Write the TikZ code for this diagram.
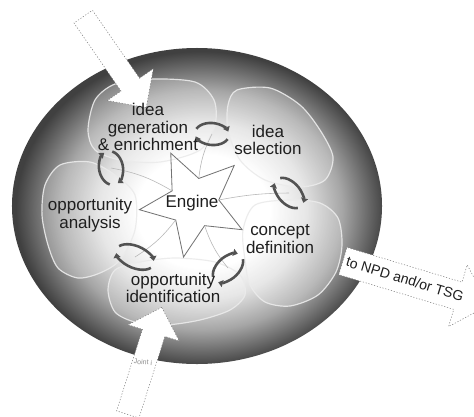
\documentclass[tikz,border=0pt]{standalone}
\usepackage{fontspec}
\setmainfont{Liberation Sans}
\usetikzlibrary{shapes.geometric, shapes.arrows, arrows.meta}

\pgfdeclareradialshading{discshade}{\pgfpoint{1bp}{-1bp}}{%
  color(0bp)=(white); color(9bp)=(white); color(14bp)=(black!12);
  color(19bp)=(black!35); color(22bp)=(black!55); color(25bp)=(black!75);
  color(50bp)=(black!75)}

\tikzset{
  lbl/.style={align=center, font=\fontsize{14.5}{14.8}\selectfont, text=black!88, inner sep=0pt},
  lobe/.style={fill=white, fill opacity=0.22, draw=white!92!black, draw opacity=0.9, line width=1pt},
  web/.style={draw=white!72!black, line width=0.5pt},
  bigarrow/.style={single arrow, fill=white, draw=black!55, dash pattern=on 1pt off 1.5pt,
    line width=0.4pt, single arrow tip angle=90, inner xsep=0pt},
  swirlarc/.style={draw=black!68, line width=2.2pt, -{Triangle[width=6pt,length=4pt]}},
  pics/swirl/.style={code={
    \draw[swirlarc] (200:1) arc (200:340:1);
    \draw[swirlarc] (20:1) arc (20:160:1);
  }},
}

\begin{document}
\begin{tikzpicture}[x=0.03cm, y=-0.03cm]
  \useasboundingbox (0,0) rectangle (474,416);

  % shaded disc
  \path[shading=discshade] (197,206) ellipse [x radius=5.55cm, y radius=4.74cm];

  % lobes
  \draw[lobe] plot[smooth cycle] coordinates {(88,130) (95,100) (115,84) (150,79) (195,82) (214,100) (215,125) (200,150) (160,162) (120,160) (95,150)};
  \draw[lobe] plot[smooth cycle] coordinates {(237,90) (270,88) (300,105) (320,130) (333,157) (325,180) (300,187) (265,180) (240,160) (228,130) (228,105)};
  \draw[lobe] plot[smooth cycle] coordinates {(45,185) (60,165) (90,162) (115,175) (135,195) (135,230) (120,260) (100,273) (78,278) (58,268) (48,245) (42,215)};
  \draw[lobe] plot[smooth cycle] coordinates {(108,290) (115,270) (140,262) (175,258) (215,262) (240,275) (245,295) (230,310) (200,320) (165,325) (135,322) (115,312)};
  \draw[lobe] plot[smooth cycle] coordinates {(255,205) (290,200) (320,203) (338,218) (342,245) (336,272) (318,295) (290,306) (265,302) (250,285) (245,260) (243,230)};

  % engine
  \node[star, star points=5, star point ratio=2.2, minimum size=3.3cm, inner sep=0pt,
        shape border rotate=25, draw=black!55, line width=0.7pt] (engine) at (194,203) {};

  \coordinate (swA) at (212,134);
  \coordinate (swB) at (111,168);
  \coordinate (swC) at (289,193);
  \coordinate (swD) at (135,257);
  \coordinate (swE) at (228,268);

  \draw[web] (engine.inner point 5) to[bend left=10] (swA);
  \draw[web] (engine.inner point 1) to[bend right=10] (swB);
  \draw[web] (engine.inner point 4) to[bend left=5] (swC);
  \draw[web] (engine.inner point 2) to[bend left=10] (swD);
  \draw[web] (engine.inner point 3) to[bend right=10] (swE);

  \pic[rotate=-5, xscale=17, yscale=11] at (swA) {swirl};
  \pic[rotate=100, xscale=17, yscale=12] at (swB) {swirl};
  \pic[rotate=133, xscale=18, yscale=11] at (swC) {swirl};
  \pic[rotate=-23, xscale=20, yscale=11] at (swD) {swirl};
  \pic[rotate=43, xscale=18, yscale=11] at (swE) {swirl};

  % arrows in and out
  \node[bigarrow, rotate=-55.3, minimum height=3.32cm, inner ysep=0.33cm,
        single arrow head extend=0.5cm] (inidea) at (111.5,57.5) {};
  \node[bigarrow, rotate=72.4, minimum height=3.37cm, inner ysep=0.345cm,
        single arrow head extend=0.45cm] (inopp) at (143,366.5) {};
  \node[bigarrow, rotate=-16.8, minimum height=4.57cm, inner ysep=0.42cm,
        single arrow head extend=0.54cm] (outnpd) at (409,281) {};

  \node[font=\fontsize{12}{12}\selectfont, text=black!88, rotate=-17] (npdtext) at (405,279) {to NPD and/or TSG};
  \node[font=\fontsize{6}{6}\selectfont, text=black!45, rotate=-4] (jointtext) at (143,362) {Joint i};

  % labels
  \node[lbl] (ideagen) at (148,127) {idea\\generation\\\& enrichment};
  \node[lbl] (ideasel) at (268,140) {idea\\selection};
  \node[lbl] (oppana) at (90,215) {opportunity\\analysis};
  \node[lbl] (concdef) at (280,239) {concept\\definition};
  \node[lbl] (oppid) at (173,288) {opportunity\\identification};
  \node[lbl] (enginetext) at (192,203) {Engine};
\end{tikzpicture}
\end{document}
